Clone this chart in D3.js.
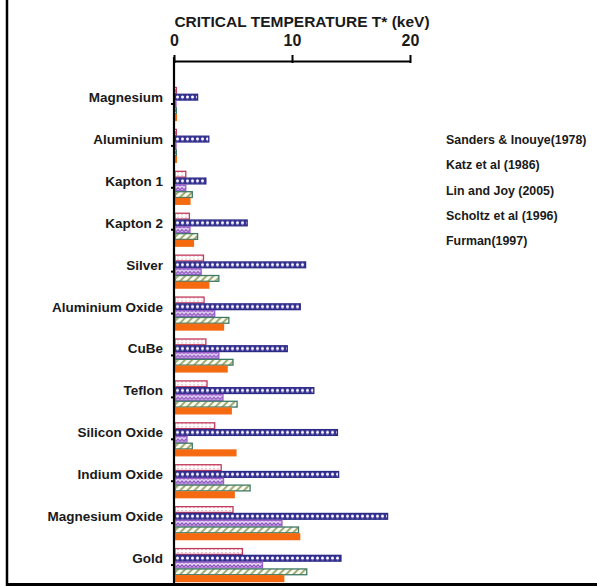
<!DOCTYPE html>
<html>
<head>
<meta charset="utf-8">
<script src="https://cdn.jsdelivr.net/npm/d3@7"></script>
<style>
  body { margin: 0; background: #fff; }
  text { font-family: Arial, "Liberation Sans", sans-serif; font-weight: bold; fill: #1a1a1a; }
</style>
</head>
<body>
<div id="chart"></div>
<script>
// Materials (top to bottom)
var materials = ["Magnesium", "Aluminium", "Kapton 1", "Kapton 2", "Silver", "Aluminium Oxide",
  "CuBe", "Teflon", "Silicon Oxide", "Indium Oxide", "Magnesium Oxide", "Gold"];

// Sources, in the order the bars are stacked in a group
var sources = ["Sanders & Inouye(1978)", "Katz et al (1986)", "Lin and Joy (2005)", "Scholtz et al (1996)", "Furman(1997)"];

// Critical temperature T* (keV) for each source, one value per material
var sanders = [0.2, 0.2, 1.0, 1.3, 2.5, 2.55, 2.7, 2.8, 3.45, 4.0, 5.0, 5.8];
var katz    = [2.0, 2.95, 2.7, 6.2, 11.15, 10.7, 9.6, 11.85, 13.85, 13.95, 18.1, 14.15];
var linJoy  = [0.15, 0.15, 1.0, 1.35, 2.3, 3.45, 3.8, 4.15, 1.1, 4.2, 9.15, 7.5];
var scholtz = [0.2, 0.2, 1.55, 2.0, 3.8, 4.65, 5.0, 5.35, 1.55, 6.45, 10.55, 11.25];
var furman  = [0.2, 0.2, 1.35, 1.65, 2.95, 4.2, 4.5, 4.85, 5.25, 5.1, 10.65, 9.3];

var xTicks = [0, 10, 20];
var seriesValues = [sanders, katz, linJoy, scholtz, furman];

var width = 597, height = 586;

var svg = d3.select("#chart")
  .append("svg")
    .attr("width", width)
    .attr("height", height);

// Bar fill patterns
var defs = svg.append("defs");

var pSanders = defs.append("pattern").attr("id", "p0")
  .attr("width", 4).attr("height", 3).attr("patternUnits", "userSpaceOnUse");
pSanders.append("rect").attr("width", 4).attr("height", 3).attr("fill", "#fff");
pSanders.append("rect").attr("x", 1).attr("y", 1).attr("width", 2).attr("height", 1).attr("fill", "#eeb6c4");

var pKatz = defs.append("pattern").attr("id", "p1")
  .attr("width", 5).attr("height", 4).attr("patternUnits", "userSpaceOnUse");
pKatz.append("rect").attr("width", 5).attr("height", 4).attr("fill", "#3a3396");
pKatz.append("circle").attr("cx", 2.5).attr("cy", 2).attr("r", 1.5).attr("fill", "#fff");

var pLin = defs.append("pattern").attr("id", "p2")
  .attr("width", 4).attr("height", 4).attr("patternUnits", "userSpaceOnUse");
pLin.append("rect").attr("width", 4).attr("height", 4).attr("fill", "#e9dcf3");
pLin.append("path").attr("d", "M0,3 L2,1 L4,3").attr("fill", "none")
  .attr("stroke", "#8a4cc0").attr("stroke-width", 1.3);

var pScholtz = defs.append("pattern").attr("id", "p3")
  .attr("width", 5).attr("height", 5).attr("patternUnits", "userSpaceOnUse")
  .attr("patternTransform", "rotate(45)");
pScholtz.append("rect").attr("width", 5).attr("height", 5).attr("fill", "#fbfbf2");
pScholtz.append("rect").attr("width", 2).attr("height", 5).attr("fill", "#9fae78");

var fills = ["url(#p0)", "url(#p1)", "url(#p2)", "url(#p3)", "#f56a10"];
var strokes = ["#c23b5c", "#2b2a85", "#9a5cc8", "#3f7a66", "#f56a10"];

// Scales
var x = d3.scaleLinear()
  .domain([0, 20])
  .range([174, 410]);

var y = d3.scaleBand()
  .domain(materials)
  .range([83, 586])
  .paddingInner(0.19)
  .paddingOuter(0.095);

var ySub = d3.scaleBand()
  .domain(d3.range(sources.length))
  .range([0, y.bandwidth()]);

// Bars
var groups = svg.selectAll(".group")
  .data(materials)
  .enter().append("g")
    .attr("class", "group")
    .attr("transform", function(d) { return "translate(0," + y(d) + ")"; });

groups.selectAll("rect")
  .data(function(d, i) { return seriesValues.map(function(s, k) { return { k: k, v: s[i] }; }); })
  .enter().append("rect")
    .attr("x", x(0) + 1)
    .attr("y", function(d) { return ySub(d.k) + 0.5; })
    .attr("width", function(d) { return Math.max(x(d.v) - x(0) - 1, 1); })
    .attr("height", ySub.bandwidth() - 1)
    .attr("fill", function(d) { return fills[d.k]; })
    .attr("stroke", function(d) { return strokes[d.k]; })
    .attr("stroke-width", 1.3);

// Top axis
var xAxis = svg.append("g")
  .attr("transform", "translate(0,61)")
  .call(d3.axisTop(x).tickValues(xTicks).tickSizeInner(6).tickSizeOuter(0).tickPadding(9));
xAxis.select(".domain").attr("stroke", "#000").attr("stroke-width", 2.2);
xAxis.selectAll(".tick line").attr("stroke", "#000").attr("stroke-width", 2).attr("y2", -6).attr("y1", 2);
xAxis.selectAll(".tick text").attr("font-size", "16px").attr("fill", "#1a1a1a")
  .attr("font-family", "Arial, 'Liberation Sans', sans-serif").attr("font-weight", "bold");

// Left axis
var yAxis = svg.append("g")
  .attr("transform", "translate(174,0)")
  .call(d3.axisLeft(y).tickSizeInner(3).tickSizeOuter(0).tickPadding(8));
yAxis.select(".domain").attr("d", "M0,57V586").attr("stroke", "#000").attr("stroke-width", 2.2);
yAxis.selectAll(".tick line").attr("stroke", "#000").attr("stroke-width", 2);
yAxis.selectAll(".tick text").attr("font-size", "13.5px").attr("fill", "#1a1a1a")
  .attr("font-family", "Arial, 'Liberation Sans', sans-serif").attr("font-weight", "bold")
  .attr("dy", "-0.15em");

// Title
svg.append("text")
  .attr("x", 302)
  .attr("y", 27)
  .attr("text-anchor", "middle")
  .attr("font-size", "15.5px")
  .text("CRITICAL TEMPERATURE T* (keV)");

// Legend (text only)
svg.selectAll(".legend")
  .data(sources)
  .enter().append("text")
    .attr("class", "legend")
    .attr("x", 446)
    .attr("y", function(d, i) { return 144 + i * 25.3; })
    .attr("font-size", "12.4px")
    .text(function(d) { return d; });

// Frame lines (left and bottom)
svg.append("line").attr("x1", 7).attr("x2", 7).attr("y1", 0).attr("y2", 586)
  .attr("stroke", "#000").attr("stroke-width", 2.5);
svg.append("line").attr("x1", 6).attr("x2", 597).attr("y1", 584.5).attr("y2", 584.5)
  .attr("stroke", "#000").attr("stroke-width", 3);
</script>
</body>
</html>
